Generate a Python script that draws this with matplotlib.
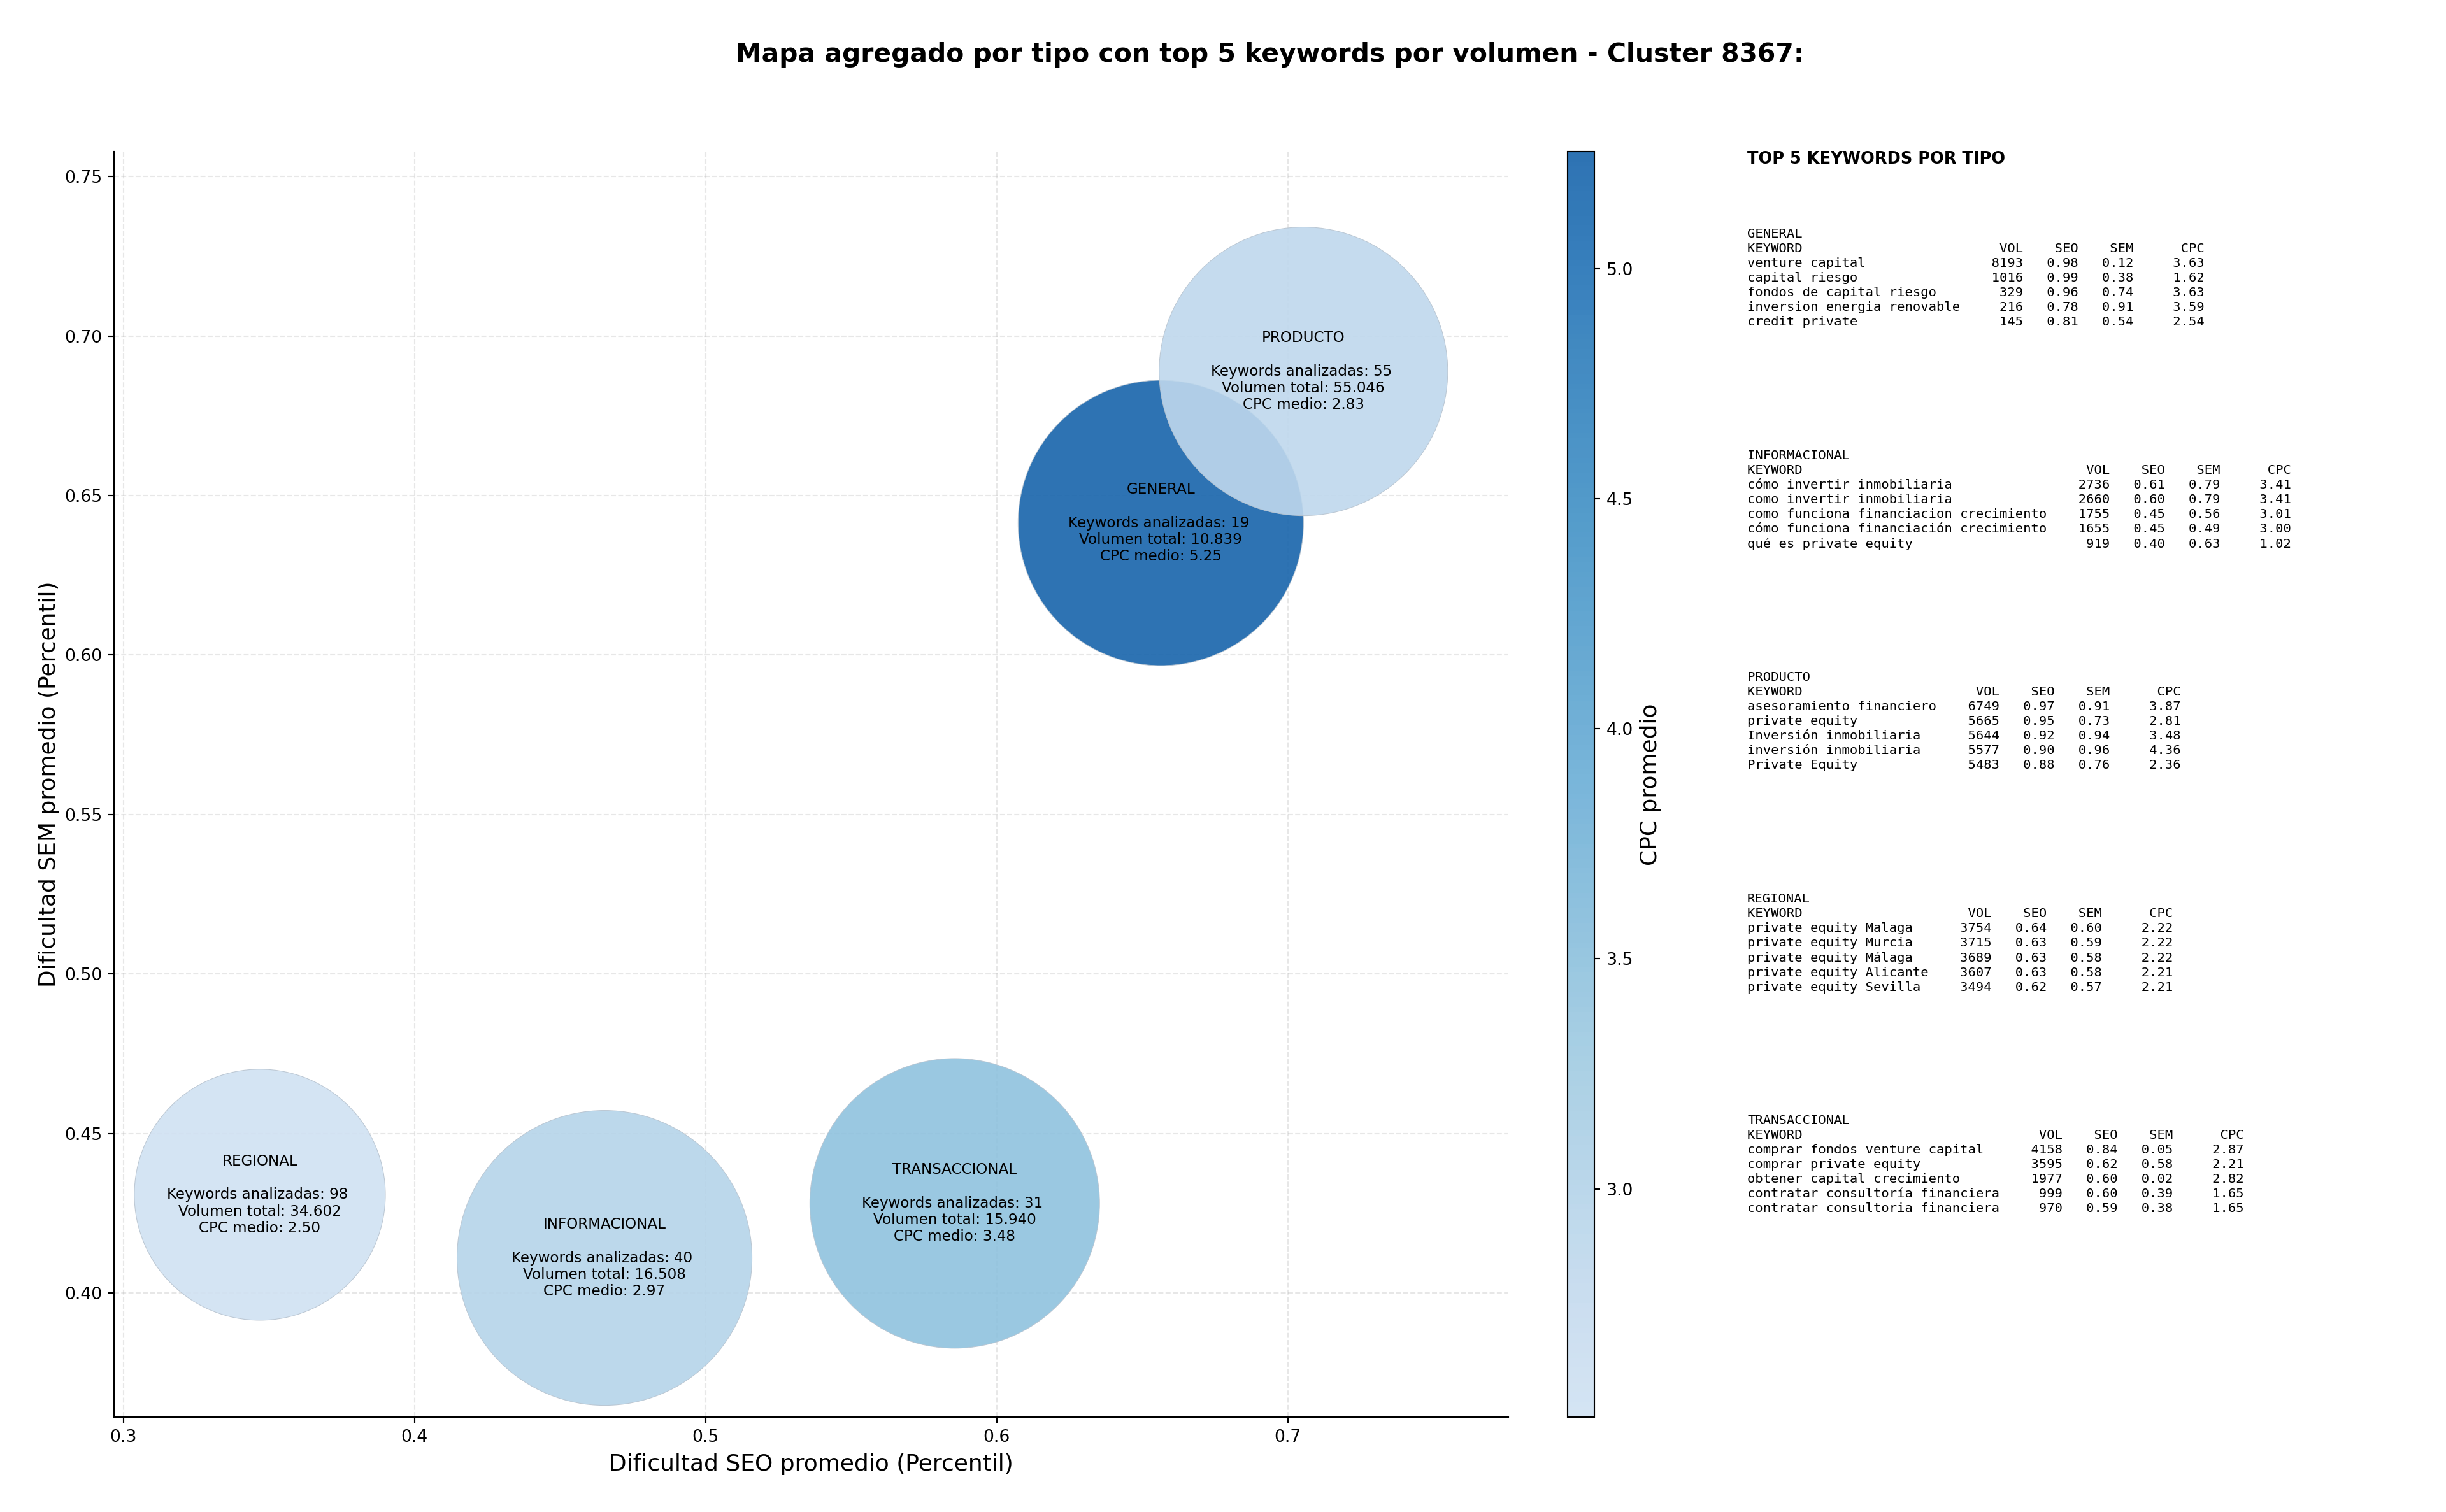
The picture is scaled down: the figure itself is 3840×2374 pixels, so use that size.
import matplotlib
matplotlib.use("Agg")
import numpy as np
import matplotlib.pyplot as plt
from matplotlib.colors import LinearSegmentedColormap, Normalize
from matplotlib.cm import ScalarMappable

# aggregated bubbles
tipos = ["GENERAL", "INFORMACIONAL", "PRODUCTO", "REGIONAL", "TRANSACCIONAL"]
seo_medio = [0.6564, 0.4653, 0.7054, 0.3469, 0.5856]
sem_medio = [0.6414, 0.4110, 0.6889, 0.4308, 0.4281]
cpc_medio = [5.254, 2.97, 2.83, 2.504, 3.48]
n_keywords = [19, 40, 55, 98, 31]
volumen_txt = ["10.839", "16.508", "55.046", "34.602", "15.940"]
bubble_size = [28230, 30150, 28860, 21840, 29100]

# top 5 tables, one row = keyword, vol, seo, sem, cpc
top_general = [
    ("venture capital", 8193, 0.98, 0.12, 3.63),
    ("capital riesgo", 1016, 0.99, 0.38, 1.62),
    ("fondos de capital riesgo", 329, 0.96, 0.74, 3.63),
    ("inversion energia renovable", 216, 0.78, 0.91, 3.59),
    ("credit private", 145, 0.81, 0.54, 2.54),
]
top_informacional = [
    ("cómo invertir inmobiliaria", 2736, 0.61, 0.79, 3.41),
    ("como invertir inmobiliaria", 2660, 0.60, 0.79, 3.41),
    ("como funciona financiacion crecimiento", 1755, 0.45, 0.56, 3.01),
    ("cómo funciona financiación crecimiento", 1655, 0.45, 0.49, 3.00),
    ("qué es private equity", 919, 0.40, 0.63, 1.02),
]
top_producto = [
    ("asesoramiento financiero", 6749, 0.97, 0.91, 3.87),
    ("private equity", 5665, 0.95, 0.73, 2.81),
    ("Inversión inmobiliaria", 5644, 0.92, 0.94, 3.48),
    ("inversión inmobiliaria", 5577, 0.90, 0.96, 4.36),
    ("Private Equity", 5483, 0.88, 0.76, 2.36),
]
top_regional = [
    ("private equity Malaga", 3754, 0.64, 0.60, 2.22),
    ("private equity Murcia", 3715, 0.63, 0.59, 2.22),
    ("private equity Málaga", 3689, 0.63, 0.58, 2.22),
    ("private equity Alicante", 3607, 0.63, 0.58, 2.21),
    ("private equity Sevilla", 3494, 0.62, 0.57, 2.21),
]
top_transaccional = [
    ("comprar fondos venture capital", 4158, 0.84, 0.05, 2.87),
    ("comprar private equity", 3595, 0.62, 0.58, 2.21),
    ("obtener capital crecimiento", 1977, 0.60, 0.02, 2.82),
    ("contratar consultoría financiera", 999, 0.60, 0.39, 1.65),
    ("contratar consultoria financiera", 970, 0.59, 0.38, 1.65),
]
tablas = [top_general, top_informacional, top_producto, top_regional, top_transaccional]

W, H, DPI = 3840, 2374, 192
fig = plt.figure(figsize=(W / DPI, H / DPI), dpi=DPI)


def px_axes(left, top, right, bottom):
    return fig.add_axes([left / W, 1 - bottom / H, (right - left) / W, (bottom - top) / H])


ax = px_axes(179, 238, 2368, 2225)
cax = px_axes(2461, 238, 2503, 2225)

blues = plt.get_cmap("Blues")
cmap = LinearSegmentedColormap.from_list("blues_cut", blues(np.linspace(0.2, 0.8, 256)))
norm = Normalize(vmin=min(cpc_medio), vmax=max(cpc_medio))

ax.grid(True, linestyle="--", alpha=0.3, zorder=0)
ax.scatter(seo_medio, sem_medio, s=bubble_size, c=cpc_medio, cmap=cmap, norm=norm,
           alpha=0.9, edgecolors="#b8c4d0", linewidths=0.4, zorder=2)

for i, tipo in enumerate(tipos):
    # the trailing space on the first stats line is in the original label
    label = f"{tipo}\n\nKeywords analizadas: {n_keywords[i]} \nVolumen total: {volumen_txt[i]}\nCPC medio: {cpc_medio[i]:.2f}"
    ax.text(seo_medio[i], sem_medio[i], label, ha="center", va="center", fontsize=8.65,
            linespacing=1.18, zorder=3)

ax.set_xlim(0.2968, 0.7758)
ax.set_ylim(0.3611, 0.7578)
ax.set_xticks([0.3, 0.4, 0.5, 0.6, 0.7])
ax.set_yticks([0.40, 0.45, 0.50, 0.55, 0.60, 0.65, 0.70, 0.75])
ax.set_xlabel("Dificultad SEO promedio (Percentil)", fontsize=13.5, labelpad=4.5)
ax.set_ylabel("Dificultad SEM promedio (Percentil)", fontsize=13.5, labelpad=2.5)
ax.spines["top"].set_visible(False)
ax.spines["right"].set_visible(False)

cb = fig.colorbar(ScalarMappable(norm=norm, cmap=cmap), cax=cax, alpha=0.9)
cb.set_ticks([3.0, 3.5, 4.0, 4.5, 5.0])
cb.set_label("CPC promedio", fontsize=13.5, labelpad=3.5)

fig.text(0.5192, 1 - 86 / H, "Mapa agregado por tipo con top 5 keywords por volumen - Cluster 8367:",
         ha="center", va="center", fontsize=15.35, fontweight="bold")

# right panel
fig.text(2743 / W, 1 - 250 / H, "TOP 5 KEYWORDS POR TIPO", ha="left", va="center",
         fontsize=9.6, fontweight="bold")
for i, tabla in enumerate(tablas):
    ancho = max(len(fila[0]) for fila in tabla) + 2
    lineas = [tipos[i], f"{'KEYWORD':<{ancho}}{'VOL':>6}{'SEO':>7}{'SEM':>7}{'CPC':>9}"]
    for kw, vol, seo, sem, cpc in tabla:
        lineas.append(f"{kw:<{ancho}}{vol:>6}{seo:>7.2f}{sem:>7.2f}{cpc:>9.2f}")
    y_top = 358 + i * 348
    fig.text(2743 / W, 1 - y_top / H, "\n".join(lineas), ha="left", va="top",
             fontsize=7.68, family="DejaVu Sans Mono", linespacing=1.265)

fig.savefig("out.png", dpi=DPI)
